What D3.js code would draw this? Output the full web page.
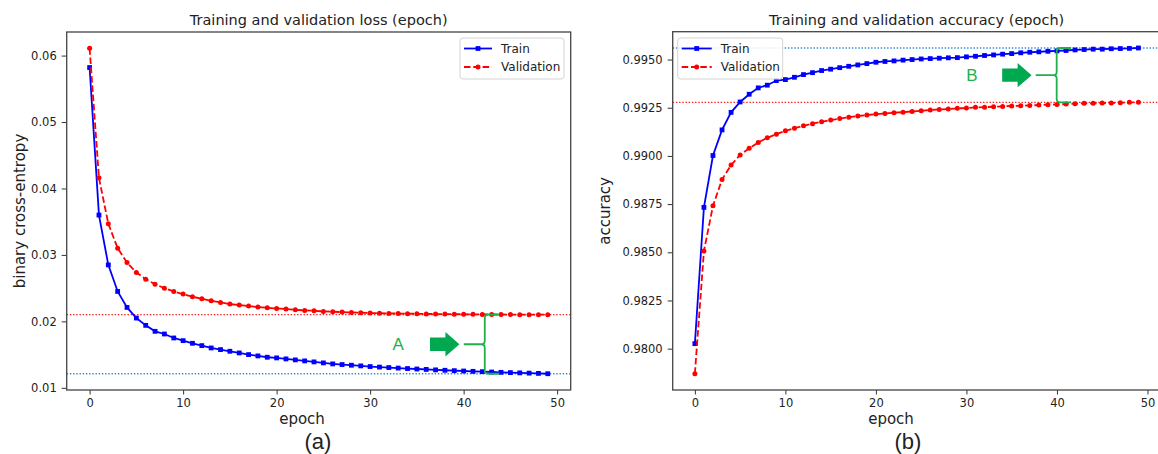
<!DOCTYPE html>
<html>
<head>
<meta charset="utf-8">
<script src="https://cdn.jsdelivr.net/npm/d3@7"></script>
<style>
  body { margin: 0; background: #fff; }
  svg { display: block; }
  text { font-family: "DejaVu Sans", sans-serif; fill: #222; }
  .tick text { font-size: 11.5px; fill: #222; }
  .tick line { stroke: #333; stroke-width: 1; }
</style>
</head>
<body>
<div class="chart"></div>
<script>
// epochs 0..49
var epochs = [0,1,2,3,4,5,6,7,8,9,10,11,12,13,14,15,16,17,18,19,20,21,22,23,24,25,26,27,28,29,30,31,32,33,34,35,36,37,38,39,40,41,42,43,44,45,46,47,48,49];

// loss values
var lossTrain = [0.0582,0.0360,0.0285,0.0245,0.0221,0.0205,0.0194,0.0185,0.0181,0.0175,0.0171,0.0167,0.01635,0.0160,0.01575,0.0155,0.01525,0.0150,0.0148,0.0146,
  0.0145,0.01435,0.0142,0.01405,0.0139,0.01375,0.0136,0.0135,0.0134,0.0133,0.0132,0.01312,0.01305,0.01297,0.0129,0.01283,0.01277,0.0127,0.01264,0.01258,
  0.01253,0.01248,0.01243,0.01238,0.01233,0.01229,0.01225,0.01221,0.01217,0.01212];
var lossVal = [0.0611,0.0416,0.0347,0.0310,0.02885,0.02735,0.02635,0.0256,0.0250,0.0245,0.0241,0.0237,0.0234,0.0231,0.02285,0.0226,0.02245,0.0223,0.02215,0.02205,
  0.02195,0.02185,0.02175,0.02165,0.0216,0.0215,0.02145,0.0214,0.02135,0.0213,0.02125,0.02122,0.0212,0.02118,0.02116,0.02114,0.02112,0.0211,0.02109,0.02108,
  0.02107,0.02106,0.02105,0.02104,0.02103,0.02102,0.02101,0.0210,0.0210,0.0210];

// accuracy values
var accTrain = [0.98026,0.98733,0.99002,0.99135,0.99226,0.99280,0.99320,0.99353,0.99367,0.99391,0.99396,0.99408,0.99422,0.99432,0.99443,0.99450,0.99458,0.99465,0.99472,0.99479,
  0.99486,0.99490,0.99493,0.99497,0.99500,0.99503,0.99505,0.99507,0.99509,0.99510,0.99514,0.99517,0.99521,0.99524,0.99528,0.99531,0.99535,0.99538,0.99540,0.99543,
  0.99545,0.99547,0.99550,0.99552,0.99554,0.99554,0.99556,0.99557,0.99558,0.99560];
var accVal = [0.97870,0.98507,0.98741,0.98878,0.98953,0.99005,0.99040,0.99070,0.99094,0.99113,0.99130,0.99144,0.99156,0.99167,0.99177,0.99186,0.99194,0.99201,0.99207,0.99212,
  0.99217,0.99220,0.99224,0.99227,0.99231,0.99234,0.99238,0.99241,0.99243,0.99247,0.99248,0.99252,0.99253,0.99255,0.99257,0.99259,0.99260,0.99262,0.99264,0.99266,
  0.99267,0.99269,0.99271,0.99273,0.99273,0.99274,0.99274,0.99276,0.99278,0.99278];

// tick labels
var epochTicks = [0,10,20,30,40,50];
var lossTicks = [0.01,0.02,0.03,0.04,0.05,0.06];
var accTicks = [0.9800,0.9825,0.9850,0.9875,0.9900,0.9925,0.9950];

var seriesNames = ["Train","Validation"];

// gap annotations (x in epochs)
var gapLabels = ["A","B"];
var gapLetterX = [33.0, 30.6];
var gapArrowX = [[36.4, 39.55], [33.95, 37.2]];
var gapBraceX = [42.26, 39.97];

var width = 1158, height = 454;

var svg = d3.select("div.chart")
    .append("svg")
    .attr("width", width)
    .attr("height", height);

svg.append("rect").attr("width", width).attr("height", height).attr("fill", "#fff");

var panels = [
  {
    left: 66.7, right: 570.7, top: 32, bottom: 390,
    title: "Training and validation loss (epoch)",
    ylabel: "binary cross-entropy", ylabelX: 25,
    xlabelX: 302, caption: "(a)", captionX: 318,
    train: lossTrain, val: lossVal, yticks: lossTicks, fmt: d3.format(".2f"),
    legendX: 460, legendW: 104, legendLine: 28,
    ann: 0
  },
  {
    left: 672.7, right: 1160.6, top: 31.7, bottom: 390,
    title: "Training and validation accuracy (epoch)",
    ylabel: "accuracy", ylabelX: 610,
    xlabelX: 891, caption: "(b)", captionX: 908,
    train: accTrain, val: accVal, yticks: accTicks, fmt: d3.format(".4f"),
    legendX: 677.7, legendW: 105, legendLine: 30,
    ann: 1
  }
];

panels.forEach(drawPanel);

function drawPanel(p) {
    var g = svg.append("g");

    var x = d3.scaleLinear()
        .domain([-2.45, 51.45])
        .range([p.left, p.right]);

    var all = p.train.concat(p.val);
    var lo = d3.min(all), hi = d3.max(all), pad = (hi - lo) * 0.05;
    var y = d3.scaleLinear()
        .domain([lo - pad, hi + pad])
        .range([p.bottom, p.top]);

    // axes
    g.append("g")
        .attr("transform", "translate(0," + p.bottom + ")")
        .call(d3.axisBottom(x).tickValues(epochTicks).tickSize(4.5).tickPadding(4).tickFormat(d3.format("d")))
        .call(function (a) { a.select(".domain").remove(); });

    g.append("g")
        .attr("transform", "translate(" + p.left + ",0)")
        .call(d3.axisLeft(y).tickValues(p.yticks).tickSize(5).tickPadding(5).tickFormat(p.fmt))
        .call(function (a) { a.select(".domain").remove(); });

    // reference lines at final values
    var lastTrain = p.train[p.train.length - 1];
    var lastVal = p.val[p.val.length - 1];

    g.append("line")
        .attr("x1", p.left).attr("x2", p.right)
        .attr("y1", y(lastVal)).attr("y2", y(lastVal))
        .attr("stroke", "#ff1a1a").attr("stroke-width", 1.3)
        .attr("stroke-dasharray", "1.4,1.8");
    g.append("line")
        .attr("x1", p.left).attr("x2", p.right)
        .attr("y1", y(lastTrain)).attr("y2", y(lastTrain))
        .attr("stroke", "#2e8ad8").attr("stroke-width", 1.3)
        .attr("stroke-dasharray", "1.4,1.8");

    var line = d3.line()
        .x(function (d, i) { return x(epochs[i]); })
        .y(function (d) { return y(d); });

    // train: solid blue, square markers
    g.append("path")
        .datum(p.train)
        .attr("d", line)
        .attr("fill", "none")
        .attr("stroke", "#0000ff")
        .attr("stroke-width", 1.8);
    g.selectAll("rect.train")
        .data(p.train)
        .enter()
        .append("rect")
        .attr("class", "train")
        .attr("x", function (d, i) { return x(epochs[i]) - 2.4; })
        .attr("y", function (d) { return y(d) - 2.4; })
        .attr("width", 4.8).attr("height", 4.8)
        .attr("fill", "#0000ff");

    // validation: dashed red, round markers
    g.append("path")
        .datum(p.val)
        .attr("d", line)
        .attr("fill", "none")
        .attr("stroke", "#ff0000")
        .attr("stroke-width", 1.8)
        .attr("stroke-dasharray", "6.5,2.8");
    g.selectAll("circle.val")
        .data(p.val)
        .enter()
        .append("circle")
        .attr("class", "val")
        .attr("cx", function (d, i) { return x(epochs[i]); })
        .attr("cy", function (d) { return y(d); })
        .attr("r", 2.5)
        .attr("fill", "#ff0000");

    // frame
    g.append("rect")
        .attr("x", p.left).attr("y", p.top)
        .attr("width", p.right - p.left).attr("height", p.bottom - p.top)
        .attr("fill", "none")
        .attr("stroke", "#444")
        .attr("stroke-width", 1.3);

    // legend
    var lg = g.append("g").attr("transform", "translate(" + p.legendX + ",38)");
    lg.append("rect")
        .attr("width", p.legendW).attr("height", 41)
        .attr("rx", 3)
        .attr("fill", "#fff").attr("fill-opacity", 0.85)
        .attr("stroke", "#d4d4d4").attr("stroke-width", 1);
    seriesNames.forEach(function (name, i) {
        var yy = 10.5 + i * 18.5;
        var color = i == 0 ? "#0000ff" : "#ff0000";
        lg.append("line")
            .attr("x1", 4).attr("x2", 4 + p.legendLine)
            .attr("y1", yy).attr("y2", yy)
            .attr("stroke", color).attr("stroke-width", 1.8)
            .attr("stroke-dasharray", i == 0 ? null : "6.5,2.8");
        if (i == 0) {
            lg.append("rect")
                .attr("x", 4 + p.legendLine / 2 - 2.4).attr("y", yy - 2.4)
                .attr("width", 4.8).attr("height", 4.8)
                .attr("fill", color);
        } else {
            lg.append("circle")
                .attr("cx", 4 + p.legendLine / 2).attr("cy", yy)
                .attr("r", 2.5).attr("fill", color);
        }
        lg.append("text")
            .attr("x", 4 + p.legendLine + 9)
            .attr("y", yy + 4.3)
            .style("font-size", "12px")
            .text(name);
    });

    // gap annotation: letter, block arrow and brace
    var k = p.ann;
    var ym = (y(lastTrain) + y(lastVal)) / 2;
    var green = "#1fb04c";

    g.append("text")
        .attr("x", x(gapLetterX[k]))
        .attr("y", ym + 6)
        .attr("text-anchor", "middle")
        .style("font-family", "'Liberation Sans', Arial, sans-serif")
        .style("font-size", "17px")
        .style("fill", green)
        .text(gapLabels[k]);

    var ax0 = x(gapArrowX[k][0]), ax1 = x(gapArrowX[k][1]), ah = ax1 - 14;
    g.append("path")
        .attr("d", "M" + ax0 + "," + (ym - 6.7) + "L" + ah + "," + (ym - 6.7) +
            "L" + ah + "," + (ym - 12.2) + "L" + ax1 + "," + ym +
            "L" + ah + "," + (ym + 12.2) + "L" + ah + "," + (ym + 6.7) +
            "L" + ax0 + "," + (ym + 6.7) + "Z")
        .attr("fill", "#00a94f");

    var bx = x(gapBraceX[k]), y0 = y(lastVal), y1 = y(lastTrain);
    if (y0 > y1) { var t = y0; y0 = y1; y1 = t; }
    var arm = 14.5, tail = 21, r = 3.5;
    g.append("path")
        .attr("d", "M" + (bx + arm) + "," + y0 + "L" + (bx + r) + "," + y0 +
            "Q" + bx + "," + y0 + " " + bx + "," + (y0 + r) +
            "L" + bx + "," + (ym - r) +
            "Q" + bx + "," + ym + " " + (bx - r) + "," + ym +
            "L" + (bx - tail) + "," + ym +
            "M" + (bx - r) + "," + ym +
            "Q" + bx + "," + ym + " " + bx + "," + (ym + r) +
            "L" + bx + "," + (y1 - r) +
            "Q" + bx + "," + y1 + " " + (bx + r) + "," + y1 +
            "L" + (bx + arm) + "," + y1)
        .attr("fill", "none")
        .attr("stroke", green)
        .attr("stroke-width", 1.8);

    // texts
    g.append("text")
        .attr("x", (p.left + p.right) / 2)
        .attr("y", 25)
        .attr("text-anchor", "middle")
        .style("font-size", "14.5px")
        .text(p.title);

    g.append("text")
        .attr("x", p.xlabelX)
        .attr("y", 423.5)
        .attr("text-anchor", "middle")
        .style("font-size", "15px")
        .text("epoch");

    g.append("text")
        .attr("transform", "translate(" + p.ylabelX + "," + ((p.top + p.bottom) / 2) + ") rotate(-90)")
        .attr("text-anchor", "middle")
        .style("font-size", "15px")
        .text(p.ylabel);

    g.append("text")
        .attr("x", p.captionX)
        .attr("y", 449)
        .attr("text-anchor", "middle")
        .style("font-family", "'Liberation Sans', Arial, sans-serif")
        .style("font-size", "22px")
        .text(p.caption);
}
</script>
</body>
</html>
